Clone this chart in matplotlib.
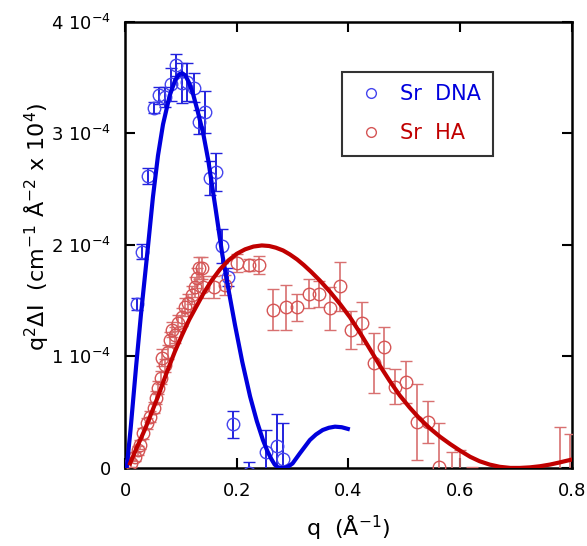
import matplotlib
matplotlib.use("Agg")
import matplotlib.pyplot as plt
from matplotlib.lines import Line2D
import numpy as np

SCALE = 1e-4

# Sr DNA data (q in 1/A, q^2 dI in units of 1e-4)
dna_q = [0.0215, 0.031, 0.041, 0.052, 0.061, 0.072, 0.082, 0.091, 0.102, 0.111,
         0.123, 0.132, 0.143, 0.152, 0.163, 0.174, 0.184, 0.193, 0.222, 0.252,
         0.272, 0.283]
dna_v = [1.47, 1.94, 2.62, 3.23, 3.34, 3.33, 3.44, 3.61, 3.45, 3.46,
         3.41, 3.10, 3.19, 2.60, 2.65, 1.99, 1.71, 0.39, -0.05, 0.14,
         0.20, 0.08]
dna_err = [0.05, 0.07, 0.07, 0.05, 0.08, 0.09, 0.15, 0.10, 0.18, 0.17,
           0.13, 0.11, 0.19, 0.15, 0.17, 0.15, 0.08, 0.12, 0.10, 0.20,
           0.28, 0.32]

# Sr HA data
ha_q = [0.011, 0.018, 0.023, 0.027, 0.032, 0.039, 0.045, 0.052, 0.055, 0.059,
        0.064, 0.066, 0.072, 0.077, 0.081, 0.084, 0.089, 0.095, 0.102, 0.107,
        0.113, 0.120, 0.125, 0.129, 0.132, 0.138, 0.140, 0.159, 0.179, 0.200,
        0.222, 0.240, 0.265, 0.288, 0.308, 0.329, 0.347, 0.367, 0.385, 0.405,
        0.425, 0.445, 0.464, 0.483, 0.503, 0.523, 0.543, 0.563, 0.585, 0.600,
        0.621, 0.779, 0.796]
ha_v = [0.04, 0.10, 0.16, 0.21, 0.31, 0.40, 0.46, 0.54, 0.63, 0.72,
        0.81, 0.99, 0.92, 1.04, 1.15, 1.24, 1.19, 1.30, 1.35, 1.44,
        1.48, 1.55, 1.62, 1.70, 1.79, 1.79, 1.62, 1.62, 1.64, 1.84,
        1.82, 1.82, 1.42, 1.44, 1.44, 1.56, 1.56, 1.43, 1.63, 1.24,
        1.30, 0.94, 1.08, 0.73, 0.77, 0.41, 0.41, 0.01, -0.10, -0.10,
        -0.20, -0.30, -0.20]
ha_err = [0.03, 0.04, 0.04, 0.04, 0.05, 0.05, 0.05, 0.05, 0.06, 0.06,
          0.06, 0.08, 0.06, 0.06, 0.07, 0.07, 0.07, 0.07, 0.08, 0.08,
          0.08, 0.08, 0.09, 0.09, 0.10, 0.10, 0.10, 0.10, 0.09, 0.08,
          0.05, 0.08, 0.18, 0.20, 0.12, 0.13, 0.12, 0.19, 0.22, 0.17,
          0.19, 0.27, 0.18, 0.16, 0.19, 0.34, 0.19, 0.39, 0.24, 0.26,
          0.21, 0.67, 0.50]

# model fits
dna_fit_q = [0.003, 0.010, 0.020, 0.0286, 0.041, 0.050, 0.059, 0.068, 0.080, 0.090,
             0.097, 0.102, 0.108, 0.115, 0.122, 0.130, 0.140, 0.149, 0.162, 0.174,
             0.186, 0.197, 0.210, 0.224, 0.236, 0.247, 0.255, 0.262, 0.268, 0.274,
             0.280, 0.286, 0.293, 0.300, 0.313, 0.322, 0.331, 0.342, 0.354, 0.365,
             0.376, 0.388, 0.399]
dna_fit_v = [0.0, 0.35, 0.92, 1.38, 1.98, 2.43, 2.80, 3.08, 3.34, 3.48,
             3.53, 3.54, 3.52, 3.45, 3.35, 3.20, 3.00, 2.76, 2.33, 1.92,
             1.58, 1.28, 0.95, 0.64, 0.42, 0.25, 0.15, 0.08, 0.03, 0.005,
             0.0, 0.0, 0.015, 0.04, 0.13, 0.19, 0.25, 0.30, 0.34, 0.36,
             0.37, 0.365, 0.35]

ha_fit_q = [0.009, 0.020, 0.036, 0.059, 0.075, 0.089, 0.102, 0.115, 0.128, 0.140,
            0.155, 0.170, 0.185, 0.200, 0.215, 0.230, 0.245, 0.258, 0.270, 0.283,
            0.295, 0.308, 0.320, 0.333, 0.349, 0.367, 0.385, 0.403, 0.421, 0.438,
            0.456, 0.474, 0.492, 0.510, 0.528, 0.546, 0.564, 0.582, 0.600, 0.618,
            0.635, 0.653, 0.671, 0.690, 0.707, 0.725, 0.743, 0.761, 0.779, 0.800]
ha_fit_v = [0.04, 0.17, 0.35, 0.64, 0.86, 1.04, 1.19, 1.33, 1.45, 1.56,
            1.68, 1.78, 1.86, 1.92, 1.96, 1.985, 1.995, 1.99, 1.975, 1.95,
            1.915, 1.87, 1.82, 1.76, 1.68, 1.58, 1.47, 1.35, 1.21, 1.07,
            0.92, 0.78, 0.65, 0.54, 0.44, 0.355, 0.28, 0.215, 0.155, 0.10,
            0.06, 0.03, 0.01, 0.0, 0.0, 0.005, 0.015, 0.03, 0.05, 0.075]

BLUE = "#0000dd"
RED = "#c00000"
BLUE_MK = "#4444ee"
RED_MK = "#d55555"

fig = plt.figure(figsize=(5.87, 5.46), dpi=100)
ax = fig.add_axes([0.213, 0.143, 0.761, 0.817])

ax.errorbar(np.array(dna_q), np.array(dna_v) * SCALE, yerr=np.array(dna_err) * SCALE,
            fmt="o", mfc="none", mec=BLUE_MK, ms=9, mew=1.0,
            ecolor="#2222dd", elinewidth=1.4, capsize=4, capthick=1.4, zorder=3)
ax.errorbar(np.array(ha_q), np.array(ha_v) * SCALE, yerr=np.array(ha_err) * SCALE,
            fmt="o", mfc="none", mec=RED_MK, ms=9, mew=1.0,
            ecolor="#d87070", elinewidth=1.2, capsize=4, capthick=1.2, zorder=3)
ax.plot(dna_fit_q, np.array(dna_fit_v) * SCALE, color=BLUE, lw=3, zorder=4,
        solid_joinstyle="round")
ax.plot(ha_fit_q, np.array(ha_fit_v) * SCALE, color=RED, lw=3, zorder=4,
        solid_joinstyle="round")

ax.set_xlim(0, 0.8)
ax.set_ylim(0, 4e-4)
ax.set_xticks([0, 0.2, 0.4, 0.6, 0.8])
ax.set_xticklabels(["0", "0.2", "0.4", "0.6", "0.8"])
ax.set_yticks([0, 1e-4, 2e-4, 3e-4, 4e-4])
ax.set_yticklabels(["0", r"1 10$^{-4}$", r"2 10$^{-4}$", r"3 10$^{-4}$", r"4 10$^{-4}$"])
ax.tick_params(direction="in", length=7, width=1.5, labelsize=13,
               top=True, right=True)
ax.tick_params(axis="y", pad=10)
ax.tick_params(axis="x", pad=10)
for s in ax.spines.values():
    s.set_linewidth(1.8)

ax.set_xlabel(r"q  ($\mathrm{\AA}^{-1}$)", fontsize=16, labelpad=10)
ax.set_ylabel(r"q$^2$$\Delta$I  (cm$^{-1}$ $\mathrm{\AA}^{-2}$ x 10$^4$)", fontsize=16)
ax.yaxis.set_label_coords(-0.165, 0.54)

handles = [Line2D([], [], ls="none", marker="o", ms=7, mfc="none", mec=BLUE_MK, mew=1.0),
           Line2D([], [], ls="none", marker="o", ms=7, mfc="none", mec=RED_MK, mew=1.0)]
leg = ax.legend(handles, ["Sr  DNA", "Sr  HA"], loc="upper left",
                bbox_to_anchor=(0.4855, 0.888), borderaxespad=0, fontsize=15,
                fancybox=False, edgecolor="#333333", framealpha=1,
                handlelength=1.6, handletextpad=0.58, borderpad=0.6, labelspacing=0.9)
leg.get_frame().set_linewidth(1.5)
for t, c in zip(leg.get_texts(), [BLUE, RED]):
    t.set_color(c)

fig.savefig("out.png", dpi=100, facecolor="white")
